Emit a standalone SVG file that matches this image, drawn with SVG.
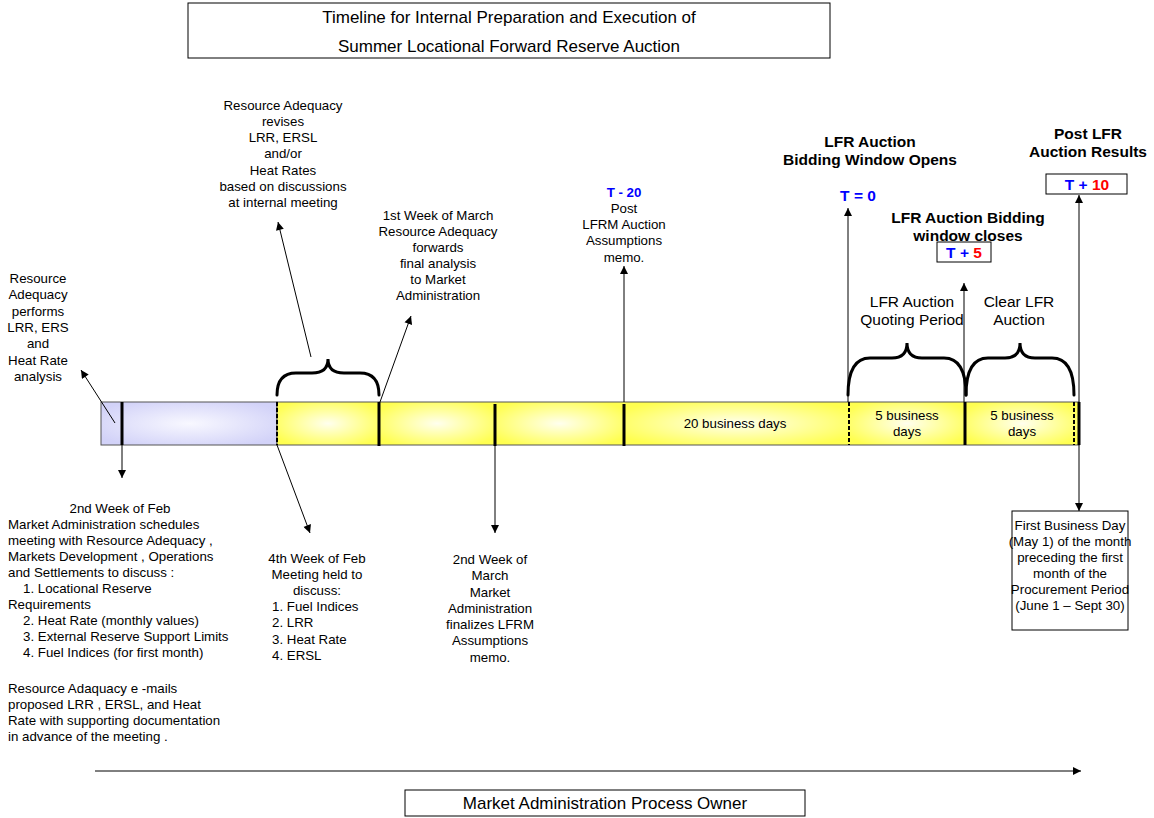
<svg xmlns="http://www.w3.org/2000/svg" width="1154" height="818" viewBox="0 0 1154 818">
<style>
text{font-family:"Liberation Sans",Arial,sans-serif;fill:#000}
.t13{font-size:13.3px}
.c{text-anchor:middle}
.b{font-weight:bold}
.big{font-size:17px}
.mid{font-size:15.5px}
.box{fill:#fff;stroke:#000;stroke-width:1}
.ln{stroke:#000;stroke-width:1;fill:none}
.thick{stroke:#000;stroke-width:3}
.dash{stroke:#000;stroke-width:2;stroke-dasharray:4 2}
.brace{fill:none;stroke:#000;stroke-width:3;stroke-linecap:round}
.blu{fill:#0000ff}
.red{fill:#ff0000}
</style>
<defs>
<radialGradient id="gb" cx="0.5" cy="0.5" r="0.6">
<stop offset="0" stop-color="#f8f8ff"/><stop offset="1" stop-color="#d2d2f8"/>
</radialGradient>
<radialGradient id="gy" cx="0.5" cy="0.5" r="0.6">
<stop offset="0" stop-color="#ffffee"/><stop offset="1" stop-color="#ffff50"/>
</radialGradient>
<marker id="ah" viewBox="0 0 10 10" refX="10" refY="5" markerWidth="9" markerHeight="8" markerUnits="userSpaceOnUse" orient="auto">
<path d="M0,0 L10,5 L0,10 z" fill="#000"/>
</marker>
</defs>

<g id="title">
<rect class="box" x="188" y="3" width="642" height="55"/>
<text class="big c" x="509" y="23">Timeline for Internal Preparation and Execution of</text>
<text class="big c" x="509" y="52">Summer Locational Forward Reserve Auction</text>
</g>

<g id="timeline">
<rect x="101" y="402" width="176" height="43" fill="url(#gb)" stroke="#555" stroke-width="1"/>
<rect x="277" y="402" width="102" height="43" fill="url(#gy)"/>
<rect x="379" y="402" width="116" height="43" fill="url(#gy)"/>
<rect x="495" y="402" width="129" height="43" fill="url(#gy)"/>
<rect x="624" y="402" width="225" height="43" fill="url(#gy)"/>
<rect x="849" y="402" width="116" height="43" fill="url(#gy)"/>
<rect x="965" y="402" width="114" height="43" fill="url(#gy)"/>
<rect x="277" y="402" width="802" height="43" fill="none" stroke="#555" stroke-width="1"/>
<line class="thick" x1="122" y1="402" x2="122" y2="445"/>
<line class="dash" x1="277" y1="402" x2="277" y2="445"/>
<line class="thick" x1="379" y1="402" x2="379" y2="446"/>
<line class="thick" x1="495" y1="404" x2="495" y2="446"/>
<line class="thick" x1="624" y1="404" x2="624" y2="446"/>
<line class="dash" x1="849" y1="402" x2="849" y2="445"/>
<line class="thick" x1="965" y1="402" x2="965" y2="445"/>
<line class="dash" x1="1074" y1="402" x2="1074" y2="445"/>
<line class="thick" x1="1079" y1="402" x2="1079" y2="445"/>
<text class="t13 c" x="735" y="428">20 business days</text>
<text class="t13 c" x="907" y="420">5 business</text>
<text class="t13 c" x="907" y="436">days</text>
<text class="t13 c" x="1022" y="420">5 business</text>
<text class="t13 c" x="1022" y="436">days</text>
</g>

<g id="braces">
<path class="brace" d="M277,395 Q277,373 296,373 L312,373 Q328,373 328,359 Q328,373 344,373 L360,373 Q379,373 379,395"/>
<path class="brace" d="M848,395 Q848,358 870,358 L892,358 Q907,358 907,343 Q907,358 922,358 L944,358 Q966,358 966,395"/>
<path class="brace" d="M966,395 Q966,358 988,358 L1005,358 Q1020,358 1020,343 Q1020,358 1035,358 L1052,358 Q1074,358 1074,395"/>
</g>

<g id="connectors">
<line class="ln" x1="115" y1="423" x2="81" y2="370" marker-end="url(#ah)"/>
<line class="ln" x1="122" y1="445" x2="122" y2="478" marker-end="url(#ah)"/>
<line class="ln" x1="277" y1="445" x2="310" y2="533" marker-end="url(#ah)"/>
<line class="ln" x1="495" y1="445" x2="495" y2="533" marker-end="url(#ah)"/>
<line class="ln" x1="311" y1="357" x2="278" y2="222" marker-end="url(#ah)"/>
<line class="ln" x1="380" y1="402" x2="411" y2="316" marker-end="url(#ah)"/>
<line class="ln" x1="624" y1="402" x2="624" y2="266" marker-end="url(#ah)"/>
<line class="ln" x1="848" y1="402" x2="848" y2="208" marker-end="url(#ah)"/>
<line class="ln" x1="964" y1="402" x2="964" y2="283" marker-end="url(#ah)"/>
<line class="ln" x1="1079" y1="402" x2="1079" y2="195" marker-end="url(#ah)"/>
<line class="ln" x1="1079" y1="445" x2="1079" y2="511" marker-end="url(#ah)"/>
<line class="ln" x1="95" y1="771" x2="1081" y2="771" marker-end="url(#ah)"/>
</g>

<g id="n-ra-performs">
<text class="t13 c" x="38"><tspan x="38" y="283">Resource</tspan><tspan x="38" y="299">Adequacy</tspan><tspan x="38" y="316">performs</tspan><tspan x="38" y="332">LRR, ERS</tspan><tspan x="38" y="348">and</tspan><tspan x="38" y="365">Heat Rate</tspan><tspan x="38" y="381">analysis</tspan></text>
</g>

<g id="n-2nd-week-feb">
<text class="t13 c" x="120" y="513">2nd Week of Feb</text>
<text class="t13"><tspan x="8" y="529">Market Administration schedules</tspan><tspan x="8" y="545">meeting with Resource Adequacy ,</tspan><tspan x="8" y="561">Markets Development , Operations</tspan><tspan x="8" y="577">and Settlements to discuss :</tspan><tspan x="23" y="593">1. Locational Reserve</tspan><tspan x="8" y="609">Requirements</tspan><tspan x="23" y="625">2. Heat Rate  (monthly values)</tspan><tspan x="23" y="641">3. External Reserve Support Limits</tspan><tspan x="23" y="657">4. Fuel Indices  (for first month)</tspan><tspan x="8" y="693">Resource Adaquacy e -mails</tspan><tspan x="8" y="709">proposed LRR , ERSL,  and Heat</tspan><tspan x="8" y="725">Rate with supporting documentation</tspan><tspan x="8" y="741">in advance of the meeting .</tspan></text>
</g>

<g id="n-4th-week-feb">
<text class="t13 c"><tspan x="317" y="563">4th Week of Feb</tspan><tspan x="317" y="579">Meeting held to</tspan><tspan x="317" y="595">discuss:</tspan></text>
<text class="t13"><tspan x="272" y="611">1. Fuel Indices</tspan><tspan x="272" y="627">2. LRR</tspan><tspan x="272" y="644">3. Heat Rate</tspan><tspan x="272" y="660">4. ERSL</tspan></text>
</g>

<g id="n-2nd-week-march">
<text class="t13 c"><tspan x="490" y="564">2nd Week of</tspan><tspan x="490" y="580">March</tspan><tspan x="490" y="597">Market</tspan><tspan x="490" y="613">Administration</tspan><tspan x="490" y="629">finalizes LFRM</tspan><tspan x="490" y="645">Assumptions</tspan><tspan x="490" y="662">memo.</tspan></text>
</g>

<g id="n-ra-revises">
<text class="t13 c"><tspan x="283" y="110">Resource Adequacy</tspan><tspan x="283" y="126">revises</tspan><tspan x="283" y="142">LRR, ERSL</tspan><tspan x="283" y="158">and/or</tspan><tspan x="283" y="175">Heat Rates</tspan><tspan x="283" y="191">based on discussions</tspan><tspan x="283" y="207">at internal meeting</tspan></text>
</g>

<g id="n-1st-week-march">
<text class="t13 c"><tspan x="438" y="220">1st Week of March</tspan><tspan x="438" y="236">Resource Adequacy</tspan><tspan x="438" y="252">forwards</tspan><tspan x="438" y="268">final analysis</tspan><tspan x="438" y="284">to Market</tspan><tspan x="438" y="300">Administration</tspan></text>
</g>

<g id="n-t-20">
<text class="t13 c b blu" x="624" y="197">T - 20</text>
<text class="t13 c"><tspan x="624" y="213">Post</tspan><tspan x="624" y="229">LFRM Auction</tspan><tspan x="624" y="245">Assumptions</tspan><tspan x="624" y="262">memo.</tspan></text>
</g>

<g id="n-t0">
<text class="mid c b" x="870" y="147">LFR Auction</text>
<text class="mid c b" x="870" y="165">Bidding Window Opens</text>
<text class="mid c b blu" x="858" y="201">T = 0</text>
</g>

<g id="n-t5">
<text class="mid c b" x="968" y="223">LFR Auction Bidding</text>
<text class="mid c b" x="968" y="241">window closes</text>
<rect class="box" x="937" y="242" width="54" height="20"/>
<text class="mid c b" x="964" y="258"><tspan class="blu">T + </tspan><tspan class="red">5</tspan></text>
</g>

<g id="n-t10">
<text class="mid c b" x="1088" y="139">Post LFR</text>
<text class="mid c b" x="1088" y="157">Auction Results</text>
<rect class="box" x="1046" y="174" width="81" height="20"/>
<text class="mid c b" x="1087" y="190"><tspan class="blu">T + </tspan><tspan class="red">10</tspan></text>
</g>

<g id="n-quoting">
<text class="mid c" x="912" y="307">LFR Auction</text>
<text class="mid c" x="912" y="325">Quoting Period</text>
</g>

<g id="n-clear">
<text class="mid c" x="1019" y="307">Clear LFR</text>
<text class="mid c" x="1019" y="325">Auction</text>
</g>

<g id="n-first-day">
<rect class="box" x="1012" y="511" width="116" height="119"/>
<text class="t13 c"><tspan x="1070" y="530">First Business Day</tspan><tspan x="1070" y="546">(May 1) of the month</tspan><tspan x="1070" y="562">preceding the first</tspan><tspan x="1070" y="578">month of the</tspan><tspan x="1070" y="594">Procurement Period</tspan><tspan x="1070" y="610">(June 1 – Sept 30)</tspan></text>
</g>

<g id="n-owner">
<rect class="box" x="405" y="790" width="400" height="26"/>
<text class="big c" x="605" y="809">Market Administration Process Owner</text>
</g>
</svg>
